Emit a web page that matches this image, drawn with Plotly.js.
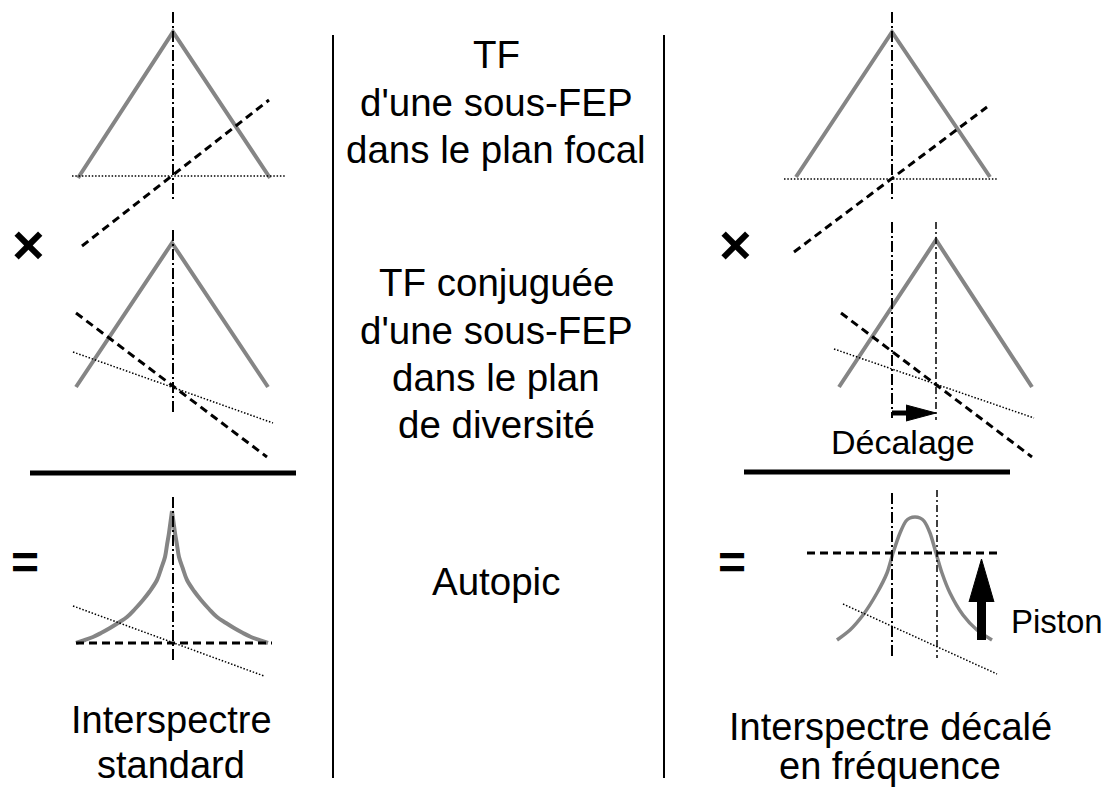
<!DOCTYPE html>
<html>
<head>
<meta charset="utf-8">
<script src="https://cdn.plot.ly/plotly-3.0.1.min.js"></script>
<style>html,body{margin:0;padding:0;background:#fff;}#chart{width:1110px;height:792px;}</style>
</head>
<body>
<div id="chart"></div>
<script>
// ---------- data (page units) ----------
// grey signal curves
const triTopLeftX = [78, 173, 270],  triTopLeftY = [178, 32, 178];
const triMidLeftX = [76, 172, 268],  triMidLeftY = [387, 243, 387];
const triTopRightX = [796, 892, 990], triTopRightY = [177, 32, 177];
const triMidRightX = [839, 936, 1032], triMidRightY = [387, 240, 387];
// cusp (Autopic) curve, left half then right half
const cuspLeftX = [76, 85, 93, 101, 110, 118, 127, 135, 143, 150, 157, 161, 165, 167, 169, 170.5, 172];
const cuspLeftY = [643, 640, 637, 633, 628, 623, 617, 609, 600, 591, 580, 569, 557, 545, 533, 522, 511];
const cuspRightX = [172, 173.5, 175, 177, 179, 183, 187, 194, 201, 209, 217, 226, 234, 243, 251, 259, 268];
const cuspRightY = [511, 522, 533, 545, 557, 569, 580, 591, 600, 609, 617, 623, 628, 633, 637, 640, 643];
// shifted interspectrum (bell) curve
const bellX = [837, 850, 863, 877, 887, 893, 900, 906, 910, 915, 920, 924, 930, 936, 942, 950, 963, 977, 992];
const bellY = [640, 630, 615, 593, 573, 553, 533, 521, 518, 517, 518, 521, 533, 553, 573, 593, 615, 630, 640];

// dashed phase lines
const dashedLines = [
  {x: [82, 269], y: [246, 100]},
  {x: [76, 267], y: [313, 457]},
  {x: [794, 987], y: [252, 107]},
  {x: [841, 1032], y: [313, 457]},
  {x: [76, 272], y: [643, 643]},
  {x: [807, 1001], y: [553, 553]}
];
// dotted lines
const dottedLines = [
  {x: [72, 285], y: [176, 176]},
  {x: [73, 273], y: [352, 423]},
  {x: [73, 264], y: [606, 676]},
  {x: [784, 997], y: [179, 179]},
  {x: [834, 1034], y: [349, 418]},
  {x: [843, 997], y: [604, 674]}
];
// dash-dot axes
const axisLines = [
  {x: [173, 173], y: [12, 200]},
  {x: [173, 173], y: [230, 413]},
  {x: [173, 173], y: [497, 661]},
  {x: [892, 892], y: [12, 200]},
  {x: [892, 892], y: [222, 418]},
  {x: [892, 892], y: [493, 658]}
];
const thinAxisLines = [
  {x: [936, 936], y: [222, 420]},
  {x: [937, 937], y: [490, 658]}
];
// solid bars and dividers
const fractionBars = [
  {x: [30, 296], y: [473, 473]},
  {x: [744, 1010], y: [472, 472]}
];
const dividers = [
  {x: [333, 333], y: [35, 778]},
  {x: [664, 664], y: [35, 778]}
];
// arrows
const shiftShaftX = [892, 910], shiftShaftY = [413, 413];
const shiftHeadX = [906, 936, 906], shiftHeadY = [405, 413, 421];
const pistonShaftX = [981.5, 981.5], pistonShaftY = [640, 598];
const pistonHeadX = [969, 981.5, 994], pistonHeadY = [602, 559, 602];

// text labels
const middleLabels = ["TF", "d'une sous-FEP", "dans le plan focal", "TF conjuguée", "d'une sous-FEP", "dans le plan", "de diversité", "Autopic"];
const middleLabelY = [54, 102, 149, 282, 330, 377, 424, 581];
const leftCaption = ["Interspectre", "standard"];
const leftCaptionY = [720, 765];
const rightCaption = ["Interspectre décalé", "en fréquence"];
const rightCaptionY = [727, 766];
const operators = ["×", "=", "×", "="];
const operatorX = [28, 25, 735, 732];
const operatorY = [244, 562, 244, 562];
const operatorSize = [56, 48, 56, 48];

// ---------- build ----------
const GREY = '#858585';
const traces = [];
function line(seg, color, width, dash) {
  traces.push({type: 'scatter', mode: 'lines', x: seg.x, y: seg.y, hoverinfo: 'skip',
    line: {color: color, width: width, dash: dash || 'solid'}});
}
[[triTopLeftX, triTopLeftY], [triMidLeftX, triMidLeftY], [triTopRightX, triTopRightY], [triMidRightX, triMidRightY]]
  .forEach(([x, y]) => line({x, y}, GREY, 4));
[[cuspLeftX, cuspLeftY], [cuspRightX, cuspRightY]].forEach(([x, y]) => {
  traces.push({type: 'scatter', mode: 'lines', x: x, y: y, hoverinfo: 'skip',
    line: {color: GREY, width: 4, shape: 'spline', smoothing: 1}});
});
traces.push({type: 'scatter', mode: 'lines', x: bellX, y: bellY, hoverinfo: 'skip',
  line: {color: GREY, width: 3.5, shape: 'spline', smoothing: 0.8}});
dottedLines.forEach(s => line(s, '#000', 1.5, '1.5px,1.8px'));
dashedLines.forEach(s => line(s, '#000', 3, '8px,5px'));
axisLines.forEach(s => line(s, '#000', 2, '11px,3px,2px,3px'));
thinAxisLines.forEach(s => line(s, '#000', 1.5, '7px,3px,2px,3px'));
fractionBars.forEach(s => line(s, '#000', 5));
dividers.forEach(s => line(s, '#000', 2));
line({x: shiftShaftX, y: shiftShaftY}, '#000', 5);
line({x: pistonShaftX, y: pistonShaftY}, '#000', 9);
[[shiftHeadX, shiftHeadY], [pistonHeadX, pistonHeadY]].forEach(([x, y]) => {
  traces.push({type: 'scatter', mode: 'lines', x: x, y: y, fill: 'toself', fillcolor: '#000',
    line: {color: '#000', width: 1}, hoverinfo: 'skip'});
});

const FONT = 'Liberation Sans, Arial, Helvetica, sans-serif';
const annotations = [];
function label(text, x, y, size, bold) {
  annotations.push({text: bold ? '<b>' + text + '</b>' : text, x: x, y: y, xref: 'x', yref: 'y',
    showarrow: false, xanchor: 'center', yanchor: 'middle',
    font: {family: FONT, size: size, color: '#000'}});
}
middleLabels.forEach((t, i) => label(t, 496, middleLabelY[i], 38.5));
leftCaption.forEach((t, i) => label(t, 171, leftCaptionY[i], 38));
rightCaption.forEach((t, i) => label(t, 890, rightCaptionY[i], 38));
operators.forEach((t, i) => label(t, operatorX[i], operatorY[i], operatorSize[i], true));
label('Décalage', 903, 442, 34);
label('Piston', 1057, 621, 33);

const layout = {
  width: 1110, height: 792,
  margin: {l: 0, r: 0, t: 0, b: 0},
  paper_bgcolor: '#fff', plot_bgcolor: '#fff',
  showlegend: false,
  xaxis: {range: [0, 1110], visible: false, fixedrange: true},
  yaxis: {range: [792, 0], visible: false, fixedrange: true},
  annotations: annotations
};
Plotly.newPlot('chart', traces, layout, {staticPlot: true, displayModeBar: false});
</script>
</body>
</html>
